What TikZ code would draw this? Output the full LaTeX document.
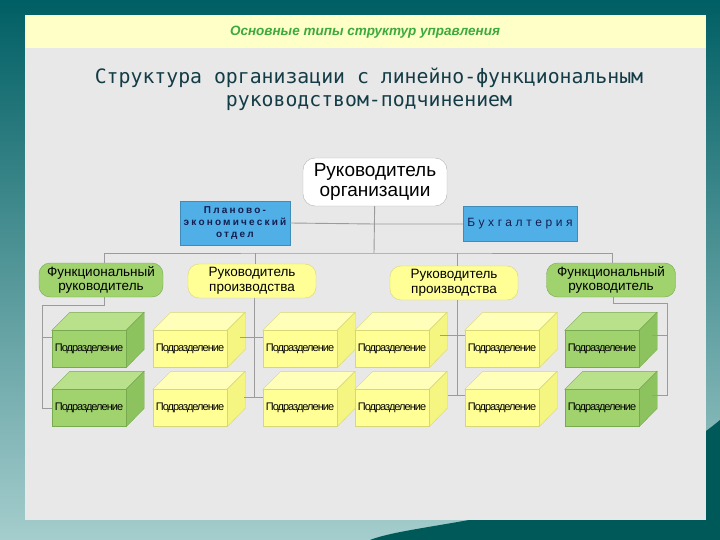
\documentclass[tikz,border=0pt]{standalone}
\usepackage{fontspec}
\setmainfont{Liberation Sans}
\newfontfamily\monof{DejaVu Sans Mono}
\usetikzlibrary{calc}
\definecolor{tealdark}{RGB}{0,95,100}
\definecolor{teallight}{RGB}{165,205,205}
\definecolor{panel}{RGB}{232,232,232}
\definecolor{hdr}{RGB}{255,255,200}
\definecolor{hdrtext}{RGB}{60,170,60}
\definecolor{ttl}{RGB}{20,60,70}
\definecolor{ln}{RGB}{155,155,155}
\definecolor{ylw}{RGB}{255,255,150}
\definecolor{ylwtop}{RGB}{255,255,185}
\definecolor{ylwside}{RGB}{245,245,130}
\definecolor{ylwedge}{RGB}{215,215,120}
\definecolor{grn}{RGB}{160,210,110}
\definecolor{grntop}{RGB}{185,225,140}
\definecolor{grnside}{RGB}{140,195,95}
\definecolor{grnedge}{RGB}{120,170,80}
\definecolor{blu}{RGB}{80,175,230}
\definecolor{navy}{RGB}{20,30,80}
\tikzset{
  conn/.style={draw=ln,line width=0.9pt},
  topbox/.style={draw=gray!60,fill=white,rounded corners=12pt,minimum width=144pt,minimum height=48pt,align=center,font=\fontsize{19}{20}\selectfont,inner sep=1pt},
  bluebox/.style={draw=blu!80!black,fill=blu,align=center,text=navy,font=\fontsize{10}{12}\selectfont\bfseries\addfontfeature{LetterSpace=22},inner sep=1pt},
  ybox/.style={draw=ylwedge,fill=ylw,rounded corners=11pt,minimum width=128pt,minimum height=34pt,align=center,font=\fontsize{13.5}{14.5}\selectfont,inner sep=1pt},
  gbox/.style={draw=grnedge,fill=grn,rounded corners=11pt,minimum width=124pt,minimum height=34pt,align=center,font=\fontsize{13.5}{14.5}\selectfont,inner sep=1pt},
  front/.style={minimum width=74pt,minimum height=37pt,inner sep=0pt,font=\fontsize{11}{11}\selectfont\addfontfeature{LetterSpace=-9}},
}
\newcommand\mycube[4]{%
  \node[front,fill=#4,draw=#4edge] (#3) at (#1,#2) {Подразделение};
  \fill[#4top,draw=#4edge] (#3.north west) -- ++(18,-18) -- ($(#3.north east)+(18,-18)$) -- (#3.north east) -- cycle;
  \fill[#4side,draw=#4edge] (#3.north east) -- ++(18,-18) -- ++(0,37) -- (#3.south east) -- cycle;
  \node[front,fill=#4,draw=#4edge] at (#3) {Подразделение};
}
\begin{document}
\begin{tikzpicture}[x=1pt,y=-1pt]
\useasboundingbox (0,0) rectangle (720,540);
\shade[top color=tealdark,bottom color=teallight] (0,0) rectangle (720,540);
\fill[teal!70!black] (370,540) .. controls (420,520) and (600,520) .. (720,420) -- (720,540) -- cycle;
\fill[panel] (25,15) rectangle (706,520);
\fill[hdr] (25,15) rectangle (706,48);
\node[font=\fontsize{13.5}{13.5}\selectfont\bfseries\itshape,text=hdrtext] (hd) at (365,32) {Основные типы структур управления};
\node[font=\monof\fontsize{19.8}{23}\selectfont,text=ttl,align=center] (tt) at (369,89) {Структура организации с линейно-функциональным\\руководством-подчинением};
% nodes
\node[topbox] (top) at (375,182) {Руководитель\\организации};
\node[bluebox,minimum width=110pt,minimum height=44pt] (peo) at (235,223) {Планово-\\экономический\\отдел};
\node[bluebox,minimum width=114pt,minimum height=35pt,font=\fontsize{12}{12}\selectfont\addfontfeature{LetterSpace=30}] (bux) at (520,224) {Бухгалтерия};
\node[gbox] (fl) at (101,280) {Функциональный\\руководитель};
\node[ybox] (rl) at (252,281) {Руководитель\\производства};
\node[ybox] (rr) at (454,283) {Руководитель\\производства};
\node[gbox,minimum width=129pt] (fr) at (611,280) {Функциональный\\руководитель};
% connectors
\coordinate (j) at (374,253);
\coordinate (jm) at (374,224);
\draw[conn] (top) -- (j);
\draw[conn] (peo.east) -- (jm) -- (bux.west);
\draw[conn] (fl.north -| 104,0) |- (j) -| (612,0 |- fr.north);
\draw[conn] (255,253) -- (rl.north -| 255,0);
\draw[conn] (457,253) -- (rr.north -| 457,0);
% cubes
\mycube{89}{349}{c11}{grn}
\mycube{89}{408}{c12}{grn}
\mycube{190}{349}{c21}{ylw}
\mycube{190}{408}{c22}{ylw}
\mycube{300}{349}{c31}{ylw}
\mycube{300}{408}{c32}{ylw}
\mycube{392}{349}{c41}{ylw}
\mycube{392}{408}{c42}{ylw}
\mycube{502}{349}{c51}{ylw}
\mycube{502}{408}{c52}{ylw}
\mycube{602}{349}{c61}{grn}
\mycube{602}{408}{c62}{grn}
% branch connectors
\draw[conn] (fl.south -| 104,0) -- (104,305) -- (42,305) |- (c12.west);
\draw[conn] (42,337) -- (c11.west |- 42,337);
\draw[conn] (rl.south -| 254,0) -- (254,397) -- (c32.west |- 254,397);
\draw[conn] (240,337) -- (c31.west |- 254,337);
\draw[conn] (244,397) -- (254,397);
\draw[conn] (rr.south -| 457,0) -- (457,395) -- (c52.west |- 457,395);
\draw[conn] (440,335) -- (c51.west |- 457,335);
\draw[conn] (448,395) -- (457,395);
\draw[conn] (fr.south -| 613,0) -- (613,303) -- (667,303) -- (667,395) -- (652,395);
\draw[conn] (667,335) -- (652,335);
\end{tikzpicture}
\end{document}
